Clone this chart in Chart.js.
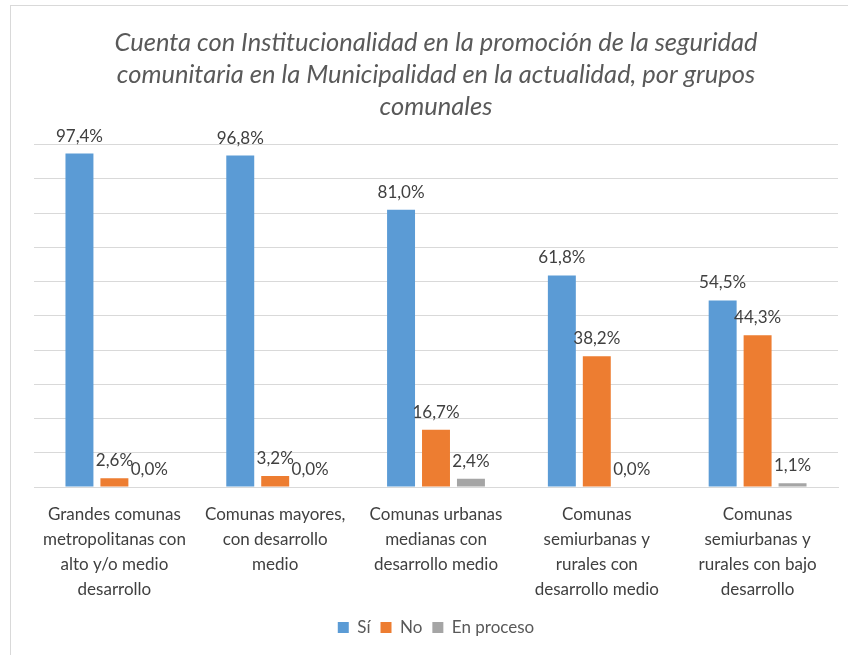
<!DOCTYPE html>
<html>
<head>
<meta charset="utf-8">
<script src="https://cdn.jsdelivr.net/npm/chart.js@4"></script>
<style>
  body { margin: 0; background: #fff; }
  #wrap { position: relative; width: 848px; height: 655px; overflow: hidden; }
  #frame { position: absolute; left: 10px; top: 5px; width: 860px; height: 670px; border: 1px solid #d9d9d9; box-sizing: border-box; }
  canvas { position: absolute; left: 0; top: 0; }
</style>
</head>
<body>
<div id="wrap">
  <div id="frame"></div>
  <canvas id="myChart" width="848" height="655"></canvas>
</div>
<script>
const categories = [
  ['Grandes comunas', 'metropolitanas con', 'alto y/o medio', 'desarrollo'],
  ['Comunas mayores,', 'con desarrollo', 'medio'],
  ['Comunas urbanas', 'medianas con', 'desarrollo medio'],
  ['Comunas', 'semiurbanas y', 'rurales con', 'desarrollo medio'],
  ['Comunas', 'semiurbanas y', 'rurales con bajo', 'desarrollo']
];
const si = [97.4, 96.8, 81.0, 61.8, 54.5];
const no = [2.6, 3.2, 16.7, 38.2, 44.3];
const enProceso = [0.0, 0.0, 2.4, 0.0, 1.1];

// labels over each bar, like the excel data labels
const barLabels = {
  id: 'barLabels',
  afterDatasetsDraw(chart) {
    const ctx = chart.ctx;
    ctx.save();
    ctx.font = '17px Lato';
    ctx.fillStyle = '#404040';
    ctx.textAlign = 'center';
    ctx.textBaseline = 'bottom';
    chart.data.datasets.forEach((ds, i) => {
      chart.getDatasetMeta(i).data.forEach((bar, j) => {
        const txt = ds.data[j].toFixed(1).replace('.', ',') + '%';
        ctx.fillText(txt, bar.x, bar.y - 9);
      });
    });
    ctx.restore();
  }
};

var ctx = document.getElementById('myChart');
var chart = new Chart(ctx, {
  type: 'bar',
  data: {
    labels: categories,
    datasets: [
      { label: 'Sí', data: si, backgroundColor: '#5b9bd5' },
      { label: 'No', data: no, backgroundColor: '#ed7d31' },
      { label: 'En proceso', data: enProceso, backgroundColor: '#a5a5a5' }
    ]
  },
  options: {
    responsive: false,
    animation: false,
    layout: { padding: { left: 34, right: 10, top: 0, bottom: 9 } },
    datasets: { bar: { categoryPercentage: 0.652, barPercentage: 0.8 } },
    plugins: {
      title: {
        display: true,
        text: [
          'Cuenta con Institucionalidad en la promoción de la seguridad',
          'comunitaria en la Municipalidad en la actualidad, por grupos',
          'comunales'
        ],
        color: '#595959',
        font: { family: 'Lato', size: 25.5, style: 'italic', weight: 'normal', lineHeight: 1.25 },
        padding: { top: 27, bottom: 22 }
      },
      legend: {
        position: 'bottom',
        labels: {
          color: '#595959',
          font: { family: 'Lato', size: 17 },
          boxWidth: 11,
          boxHeight: 11,
          padding: 10
        }
      },
      tooltip: { enabled: false }
    },
    scales: {
      x: {
        grid: { display: false },
        border: { color: '#d9d9d9' },
        ticks: { color: '#404040', font: { family: 'Lato', size: 17, lineHeight: 1.47 }, maxRotation: 0, padding: 7 }
      },
      y: {
        min: 0,
        max: 100,
        ticks: { display: false, stepSize: 10 },
        grid: { color: '#d9d9d9', drawTicks: false },
        border: { display: false }
      }
    }
  },
  plugins: [barLabels]
});
</script>
</body>
</html>
